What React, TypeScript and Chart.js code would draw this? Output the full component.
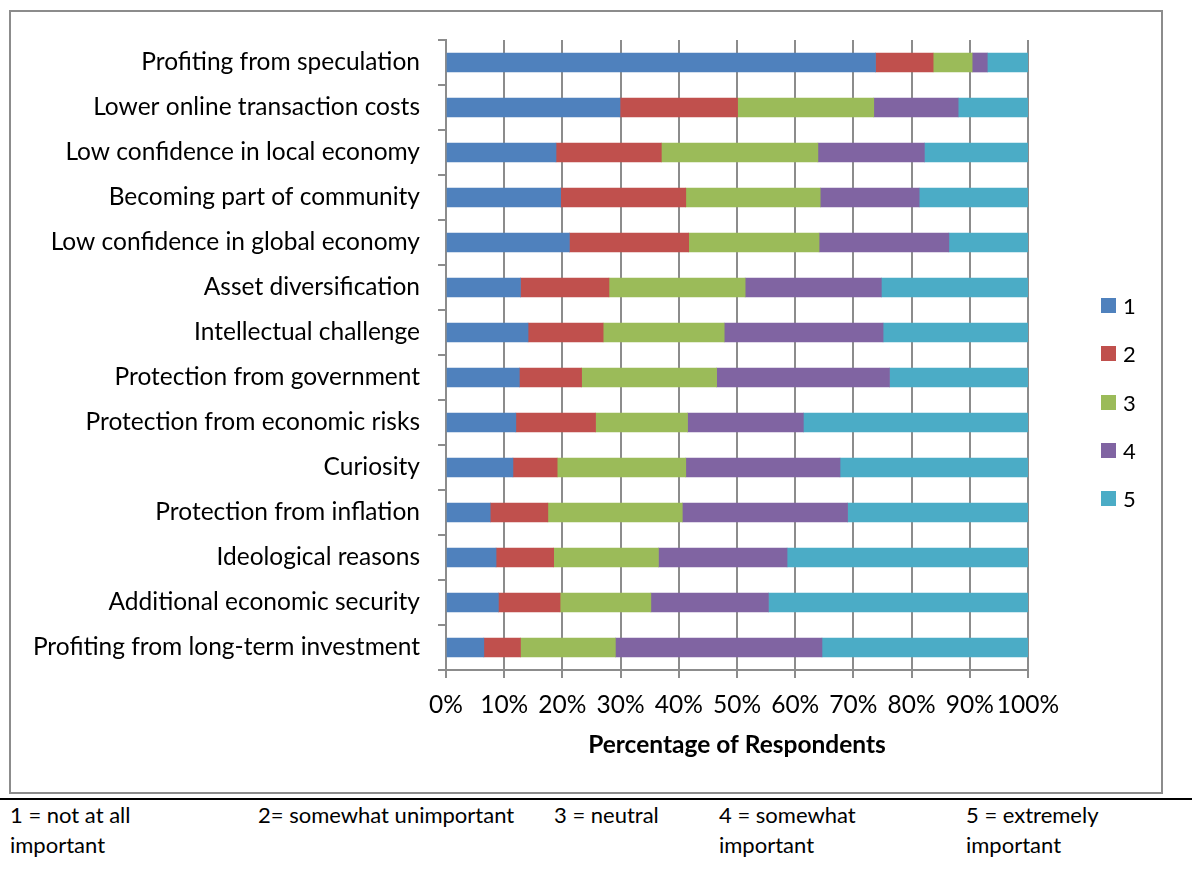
import React, { useEffect, useRef } from "react";
import { Chart, registerables } from "chart.js";

Chart.register(...registerables);

// Reasons for holding, from top to bottom
const categories = [
  "Profiting from speculation",
  "Lower online transaction costs",
  "Low confidence in local economy",
  "Becoming part of community",
  "Low confidence in global economy",
  "Asset diversification",
  "Intellectual challenge",
  "Protection from government",
  "Protection from economic risks",
  "Curiosity",
  "Protection from inflation",
  "Ideological reasons",
  "Additional economic security",
  "Profiting from long-term investment",
];

// Share of respondents (%) giving each importance rating
const rating1 = [73.8, 29.9, 18.9, 19.7, 21.2, 12.8, 14.1, 12.6, 12.0, 11.5, 7.6, 8.6, 9.0, 6.5];
const rating2 = [9.9, 20.2, 18.1, 21.5, 20.5, 15.2, 12.9, 10.7, 13.7, 7.6, 9.9, 9.9, 10.6, 6.3];
const rating3 = [6.7, 23.4, 26.9, 23.1, 22.4, 23.4, 20.8, 23.2, 15.8, 22.1, 23.1, 18.0, 15.6, 16.3];
const rating4 = [2.6, 14.5, 18.3, 17.0, 22.3, 23.4, 27.3, 29.7, 19.9, 26.5, 28.4, 22.1, 20.2, 35.5];
const rating5 = [7.0, 12.0, 17.8, 18.7, 13.6, 25.2, 24.9, 23.8, 38.6, 32.3, 31.0, 41.4, 44.6, 35.4];

const seriesLabels = ["1", "2", "3", "4", "5"];
const seriesColors = ["#4F81BD", "#C0504D", "#9BBB59", "#8064A2", "#4BACC6"];

const xTicks = [0, 10, 20, 30, 40, 50, 60, 70, 80, 90, 100];
const axisTitle = "Percentage of Respondents";

const footnotes = [
  { text: ["1 = not at all", "important"], left: 10 },
  { text: ["2= somewhat unimportant"], left: 258 },
  { text: ["3 = neutral"], left: 554 },
  { text: ["4 = somewhat", "important"], left: 719 },
  { text: ["5 = extremely", "important"], left: 966 },
];

const FONT = "Lato, 'Open Sans', sans-serif";
const GRID = "#8c8c8c";
const CANVAS_W = 1150;
const CANVAS_H = 780;
const LABEL_SIZE = 24.5;

export default function App() {
  const canvasRef = useRef<HTMLCanvasElement | null>(null);

  useEffect(() => {
    const canvas = canvasRef.current;
    if (!canvas) return;
    const values = [rating1, rating2, rating3, rating4, rating5];
    const chart = new Chart(canvas, {
      type: "bar",
      data: {
        labels: categories,
        datasets: values.map((v, i) => ({
          label: seriesLabels[i],
          data: v,
          backgroundColor: seriesColors[i],
          borderWidth: 0,
          barThickness: 19,
        })),
      },
      options: {
        indexAxis: "y",
        responsive: false,
        animation: false,
        devicePixelRatio: 1,
        layout: { padding: { top: 28, right: 133, bottom: 0, left: 0 } },
        plugins: {
          legend: { display: false },
          tooltip: { enabled: false },
        },
        scales: {
          x: {
            stacked: true,
            min: 0,
            max: 100,
            afterBuildTicks: (scale: any) => {
              scale.ticks = xTicks.map((v) => ({ value: v }));
            },
            afterFit: (scale: any) => {
              scale.height = 122;
            },
            ticks: {
              color: "#000",
              padding: 12,
              maxRotation: 0,
              autoSkip: false,
              font: { family: FONT, size: LABEL_SIZE },
              callback: (v: any) => `${v}%`,
            },
            grid: { color: GRID, lineWidth: 2, tickLength: 8, drawTicks: true },
            border: { display: true, color: GRID, width: 2 },
            title: {
              display: true,
              text: axisTitle,
              color: "#000",
              font: { family: FONT, size: LABEL_SIZE, weight: "bold" },
              padding: { top: 0, bottom: 32 },
            },
          },
          y: {
            stacked: true,
            afterFit: (scale: any) => {
              scale.width = 435;
            },
            ticks: {
              color: "#000",
              padding: 18,
              autoSkip: false,
              // single-line labels: a small line height keeps the axis from
              // reserving extra room above the first category
              font: { family: FONT, size: LABEL_SIZE, lineHeight: 0.4 },
            },
            grid: {
              offset: true,
              drawOnChartArea: false,
              drawTicks: true,
              tickLength: 8,
              color: GRID,
              lineWidth: 2,
            },
            border: { display: true, color: GRID, width: 2 },
          },
        },
      },
    });
    return () => chart.destroy();
  }, []);

  const legendTop = 305.5;
  const legendStep = 48.3;

  return (
    <div
      style={{
        position: "absolute",
        left: 0,
        top: 0,
        width: 1192,
        height: 881,
        background: "#fff",
        fontFamily: FONT,
        overflow: "hidden",
      }}
    >
      <div
        style={{
          position: "absolute",
          left: 9,
          top: 10,
          width: CANVAS_W,
          height: CANVAS_H,
          border: `2px solid ${GRID}`,
        }}
      >
        <canvas ref={canvasRef} width={CANVAS_W} height={CANVAS_H} style={{ display: "block" }} />
      </div>

      {seriesLabels.map((lab, i) => (
        <div
          key={lab}
          style={{
            position: "absolute",
            left: 1101,
            top: legendTop + i * legendStep - 13,
            height: 26,
            display: "flex",
            alignItems: "center",
            fontSize: 22,
            color: "#000",
          }}
        >
          <span
            style={{
              display: "inline-block",
              width: 15,
              height: 15,
              background: seriesColors[i],
              marginRight: 7,
            }}
          />
          <span>{lab}</span>
        </div>
      ))}

      <div
        style={{
          position: "absolute",
          left: 0,
          top: 798,
          width: 1192,
          height: 2,
          background: "#000",
        }}
      />

      {footnotes.map((f) => (
        <div
          key={f.left}
          style={{
            position: "absolute",
            left: f.left,
            top: 800,
            fontSize: 22,
            lineHeight: "30px",
            color: "#000",
            whiteSpace: "nowrap",
          }}
        >
          {f.text.map((t) => (
            <div key={t}>{t}</div>
          ))}
        </div>
      ))}
    </div>
  );
}
